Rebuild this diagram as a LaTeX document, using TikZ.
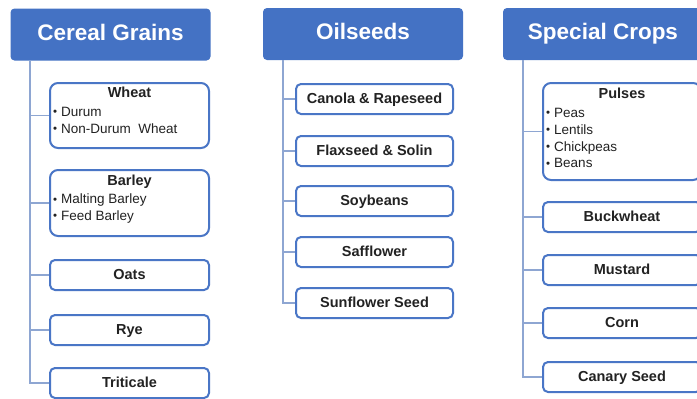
\documentclass[tikz,border=0pt]{standalone}
\usepackage{fontspec}
\setmainfont{Liberation Sans}
\definecolor{hdr}{HTML}{4472C4}
\definecolor{bord}{HTML}{4A76C6}
\definecolor{conn}{HTML}{8EA6D2}
\definecolor{txt}{HTML}{222222}
\newcommand{\bul}{{\fontsize{11.5}{11.5}\selectfont\raisebox{0.8pt}{•}}\hspace{4pt}}
\begin{document}
\begin{tikzpicture}[x=1pt,y=-1pt,
  header/.style={fill=hdr,draw=none,rounded corners=4pt,text=white,font=\fontsize{22.5}{26}\selectfont\bfseries,minimum width=200pt,minimum height=52pt,inner sep=0pt,text height=16pt,text depth=5pt},
  itembox/.style={draw=bord,line width=2pt,rounded corners=5pt,fill=white,minimum height=30pt,inner sep=0pt,text=txt,font=\fontsize{14.5}{17}\selectfont\bfseries,text height=11pt,text depth=3pt},
  listbox/.style={draw=bord,line width=2pt,rounded corners=8pt,fill=white,inner sep=0pt},
  ttl/.style={text=txt,font=\fontsize{14.5}{17}\selectfont\bfseries,inner sep=0pt,text height=11pt,text depth=3pt},
  lst/.style={text=txt,font=\fontsize{13.5}{16.8}\selectfont,align=left,inner sep=0pt,anchor=north west},
  link/.style={draw=conn,line width=1.3pt}]
\useasboundingbox (0,0) rectangle (697,399);
\clip (0,0) rectangle (697,399);
\fill[white] (0,0) rectangle (697,399);

% headers
\node[header] (cg) at (110.5,34.5) {Cereal Grains};
\node[header] (os) at (363,34) {Oilseeds};
\node[header] (sc) at (603,34) {Special Crops};

\coordinate (cgt) at (30,61);
\coordinate (ost) at (283,60);
\coordinate (sct) at (523,60);

% Cereal grains boxes
\node[listbox,minimum width=159pt,minimum height=65pt] (wheat) at (129.5,115.5) {};
\node[ttl] (wheatt) at (129.5,93) {Wheat};
\node[lst] (wheatl) at (53,107) {\bul Durum\\\bul Non-Durum\ \ Wheat};

\node[listbox,minimum width=159pt,minimum height=66pt] (barley) at (129.5,203) {};
\node[ttl] (barleyt) at (129.5,181.5) {Barley};
\node[lst] (barleyl) at (53,194) {\bul Malting Barley\\\bul Feed Barley};

\node[itembox,minimum width=159pt] (oats) at (129.5,275) {Oats};
\node[itembox,minimum width=159pt] (rye) at (129.5,330) {Rye};
\node[itembox,minimum width=159pt] (trit) at (129.5,383) {Triticale};

\foreach \n in {wheat,barley,oats,rye,trit} \draw[link] (cgt) |- (\n.west);

% Oilseeds boxes
\node[itembox,minimum width=157pt] (canola) at (374.5,99) {Canola \& Rapeseed};
\node[itembox,minimum width=157pt] (flax) at (374.5,151) {Flaxseed \& Solin};
\node[itembox,minimum width=157pt] (soy) at (374.5,201) {Soybeans};
\node[itembox,minimum width=157pt] (saff) at (374.5,252) {Safflower};
\node[itembox,minimum width=157pt] (sunf) at (374.5,303) {Sunflower Seed};

\foreach \n in {canola,flax,soy,saff,sunf} \draw[link] (ost) |- (\n.west);

% Special crops boxes
\node[listbox,minimum width=158pt,minimum height=97pt] (pulses) at (622,131.5) {};
\node[ttl] (pulsest) at (622,94) {Pulses};
\node[lst] (pulsesl) at (546,108) {\bul Peas\\\bul Lentils\\\bul Chickpeas\\\bul Beans};

\node[itembox,minimum width=158pt] (buck) at (622,217) {Buckwheat};
\node[itembox,minimum width=158pt] (must) at (622,270) {Mustard};
\node[itembox,minimum width=158pt] (corn) at (622,323) {Corn};
\node[itembox,minimum width=158pt] (canary) at (622,377) {Canary Seed};

\foreach \n in {pulses,buck,must,corn,canary} \draw[link] (sct) |- (\n.west);
\end{tikzpicture}
\end{document}
